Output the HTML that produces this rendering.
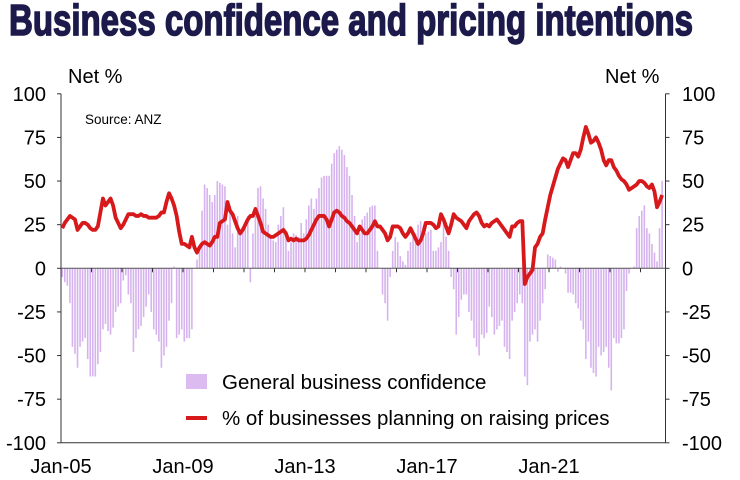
<!DOCTYPE html>
<html><head><meta charset="utf-8"><style>
html,body{margin:0;padding:0;background:#fff;}
svg{display:block;font-family:"Liberation Sans",sans-serif;}
</style></head><body>
<svg id="chart" width="740" height="480" viewBox="0 0 740 480">
<text x="9" y="35" font-family="'Liberation Sans Narrow','Liberation Sans',sans-serif" font-weight="bold" font-size="44" fill="#1c1a4a" stroke="#1c1a4a" stroke-width="1.6" textLength="684" lengthAdjust="spacingAndGlyphs">Business confidence and pricing intentions</text>
<text x="68" y="83" font-size="20" fill="#000">Net %</text>
<text x="605" y="83" font-size="20" fill="#000">Net %</text>
<text x="85" y="124" font-size="13.5" fill="#000">Source: ANZ</text>
<g id="bars"></g>
<g id="axes"></g>
<path id="line" fill="none" stroke="#d7191c" stroke-width="3.8" stroke-linejoin="round"></path>
<g>
<rect x="186" y="374" width="21" height="15" fill="#dcbcf0"></rect>
<text x="222" y="389" font-size="20.5" fill="#000">General business confidence</text>
<line x1="186" y1="418" x2="207" y2="418" stroke="#d7191c" stroke-width="4"></line>
<text x="222" y="425" font-size="20.5" fill="#000">% of businesses planning on raising prices</text>
</g>
</svg>
<script>
const startYear = 2005;
const confidence = [
-5,-8,-10,-20,-45,-49,-57,-45,-42,-40,-52,-62,
-62,-62,-55,-48,-35,-32,-36,-38,-34,-25,-22,-20,
-7,-4,-15,-20,-48,-40,-35,-33,-28,-22,-15,-25,
-35,-38,-42,-57,-50,-45,-30,-20,1,-40,-38,-35,
-42,-40,-40,-35,0,5,10,33,48,46,42,38,
42,50,49,48,47,25,35,20,12,30,20,22,
25,30,-8,20,30,46,47,40,34,25,18,16,
15,25,30,35,20,10,15,20,19,18,26,20,
28,36,40,34,40,46,52,53,53,53,60,66,
68,70,68,65,58,53,42,30,15,20,28,30,
32,35,36,36,10,0,-15,-20,-30,-5,10,18,
15,7,4,2,10,15,18,20,25,27,24,20,
21,22,10,10,12,15,28,18,10,-5,-12,-38,
-28,-18,-15,-15,-25,-30,-40,-45,-50,-38,-40,-37,
-22,-28,-38,-35,-33,-30,-45,-48,-52,-30,-25,-20,
-15,-20,-62,-67,-42,-38,-35,-42,-30,-20,-12,8,
7,6,5,-2,1,0,-3,-14,-14,-15,-20,-23,
-30,-35,-52,-42,-57,-60,-62,-45,-50,-48,-45,-57,
-70,-40,-43,-43,-40,-35,-13,-3,0,1,23,30,
33,36,23,20,14,9,4,23,50];
const pricing = [
23,26,28,30,29,28,22,24,26,26,25,23,
22,22,24,32,40,36,38,40,36,29,26,23,
25,28,31,31,31,30,30,31,30,30,29,29,
29,29,30,32,32,38,43,40,36,30,21,14,
14,13,12,18,12,9,12,14,15,14,13,15,
18,18,26,27,28,38,33,31,27,23,20,22,
25,28,30,30,34,30,26,21,20,19,18,18,
19,20,21,22,20,16,17,16,17,16,16,16,
17,19,22,25,28,30,30,30,28,24,28,32,
33,32,30,29,27,26,24,22,20,24,22,20,
20,22,24,27,24,24,22,20,16,18,24,24,
24,23,20,18,20,23,20,17,14,16,20,26,
26,26,25,23,24,31,28,24,20,25,31,29,
28,27,25,23,27,29,31,32,30,26,24,25,
24,26,27,28,26,24,22,20,18,24,24,26,
27,27,-9,-5,-3,-1,12,14,18,20,28,35,
42,47,52,57,60,63,62,58,62,66,66,64,
68,75,81,77,72,73,75,72,68,62,59,62,
62,58,56,53,51,50,48,45,46,47,48,50,
50,49,47,46,48,44,35,38,42];
const yTicks = [100,75,50,25,0,-25,-50,-75,-100];
const xLabels = ["Jan-05","Jan-09","Jan-13","Jan-17","Jan-21"];
const xLabelYears = [2005,2009,2013,2017,2021];

const NS="http://www.w3.org/2000/svg";
const X0=61, PXYEAR=30.5, Y0=268.3, PXU=1.745, XR=665.5;
function xm(i){return X0+(i+0.5)*PXYEAR/12;}
function xy(yr){return X0+(yr-startYear)*PXYEAR;}
function yv(v){return Y0-v*PXU;}
function mk(tag,attrs,parent){const e=document.createElementNS(NS,tag);for(const k in attrs)e.setAttribute(k,attrs[k]);parent.appendChild(e);return e;}

const bars=document.getElementById('bars');
confidence.forEach((v,i)=>{
  const r=mk('rect',{x:xm(i)-0.8,y:Math.min(yv(v),Y0),width:1.6,height:Math.abs(yv(v)-Y0),fill:'#d6b3ee'},bars);
  
  
});

const axes=document.getElementById('axes');
const la=mk('line',{x1:X0,y1:yv(100),x2:X0,y2:yv(-100),stroke:'#333','stroke-width':1},axes);


const ra=mk('line',{x1:XR,y1:yv(100),x2:XR,y2:yv(-100),stroke:'#333','stroke-width':1},axes);


const ba=mk('line',{x1:X0,y1:yv(-100),x2:XR,y2:yv(-100),stroke:'#333','stroke-width':1},axes);


const za=mk('line',{x1:X0,y1:Y0,x2:XR,y2:Y0,stroke:'#555','stroke-width':1},axes);


yTicks.forEach(t=>{
  mk('line',{x1:X0-4,y1:yv(t),x2:X0,y2:yv(t),stroke:'#333'},axes);
  mk('line',{x1:XR,y1:yv(t),x2:XR+4,y2:yv(t),stroke:'#333'},axes);
  const l=mk('text',{x:46,y:yv(t)+7,'font-size':20,'text-anchor':'end',fill:'#000'},axes);
  l.textContent=t;
  
  
  const r=mk('text',{x:682,y:yv(t)+7,'font-size':20,fill:'#000'},axes);
  r.textContent=t;
  
  
});
for(let yr=startYear+1; yr<=2024; yr++){
  mk('line',{x1:xy(yr),y1:Y0,x2:xy(yr),y2:Y0+4,stroke:'#333'},axes);
}
xLabels.forEach((s,i)=>{
  const t=mk('text',{x:xy(xLabelYears[i]),y:473,'font-size':20,'text-anchor':'middle',fill:'#000'},axes);
  t.textContent=s;
  
  
});

document.getElementById('line').setAttribute('d',pricing.map((v,i)=>(i?'L':'M')+xm(i).toFixed(2)+','+yv(v).toFixed(2)).join(''));
</script>
</body></html>
